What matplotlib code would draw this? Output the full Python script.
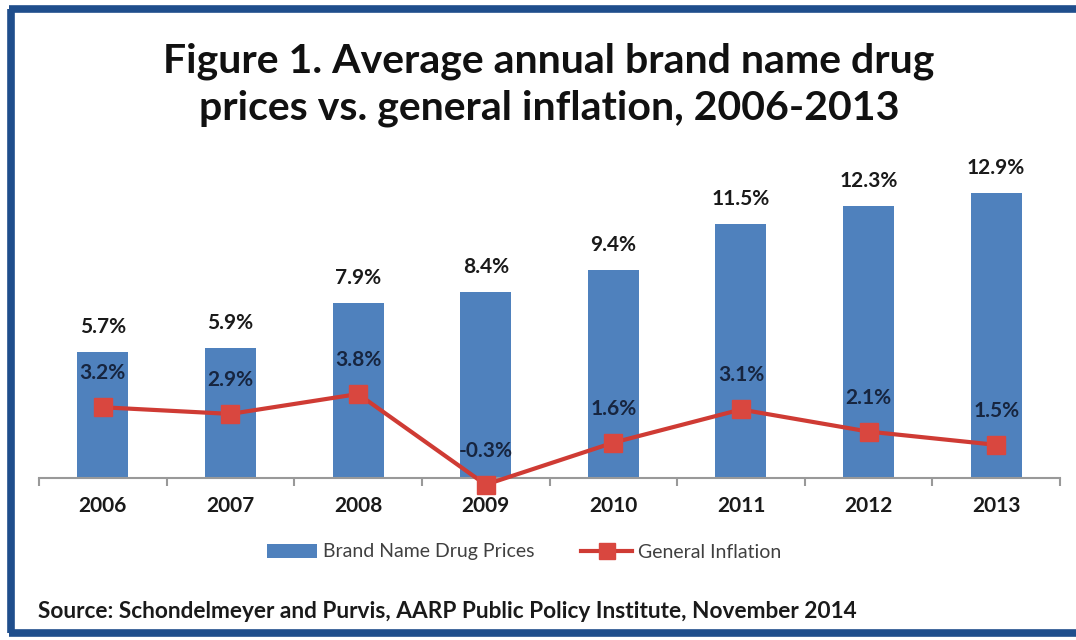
import matplotlib
matplotlib.use("Agg")
import matplotlib.pyplot as plt
from matplotlib.lines import Line2D
from matplotlib.patches import Patch
import numpy as np

years = ["2006", "2007", "2008", "2009", "2010", "2011", "2012", "2013"]
drug_prices = [5.7, 5.9, 7.9, 8.4, 9.4, 11.5, 12.3, 12.9]
inflation = [3.2, 2.9, 3.8, -0.3, 1.6, 3.1, 2.1, 1.5]

plt.rcParams['font.family'] = ['Lato', 'DejaVu Sans']

W, H = 1076, 640
fig = plt.figure(figsize=(W / 100, H / 100), dpi=100)
fig.patch.set_facecolor("white")

# frame
frame_col = "#1f4e8c"
fig.add_artist(Line2D([11 / W, 11 / W], [1 - 9 / H, 1 - 633 / H], color=frame_col, lw=5.5,
                      transform=fig.transFigure, solid_capstyle="butt"))
fig.add_artist(Line2D([9 / W, 1.0], [1 - 9 / H, 1 - 9 / H], color=frame_col, lw=5.5,
                      transform=fig.transFigure, solid_capstyle="butt"))
fig.add_artist(Line2D([9 / W, 1.0], [1 - 633 / H, 1 - 633 / H], color=frame_col, lw=5.5,
                      transform=fig.transFigure, solid_capstyle="butt"))

# axes: zero at y=478px, 22.1 px per unit
ymin, ymax = -1.0, 14.0
ppu = 22.1
bottom_px = 478 + (-ymin) * ppu
height_px = (ymax - ymin) * ppu
ax = fig.add_axes([39 / W, (H - bottom_px) / H, 1021 / W, height_px / H])
ax.set_ylim(ymin, ymax)
x = np.arange(len(years))
ax.set_xlim(-0.5, len(years) - 0.5)

ax.bar(x, drug_prices, width=0.4, color="#4f81bd", zorder=2)
ax.plot(x, inflation, color="#cf3b34", lw=3, marker="s", markersize=13,
        markerfacecolor="#d9473f", markeredgecolor="#d9473f", zorder=4)

for xi, v in zip(x, drug_prices):
    ax.text(xi, v + 25 / ppu, f"{v:.1f}%", ha="center", va="center", fontsize=15,
            fontweight="bold", color="#1a1a1a", zorder=5)
for xi, v in zip(x, inflation):
    ax.text(xi, v + 34 / ppu, f"{v:.1f}%", ha="center", va="center", fontsize=15,
            fontweight="bold", color="#17253f", zorder=5)

for s in ["top", "right", "left"]:
    ax.spines[s].set_visible(False)
ax.spines["bottom"].set_position(("data", 0))
ax.spines["bottom"].set_color("#999999")
ax.spines["bottom"].set_linewidth(1.5)
ax.set_yticks([])
ax.set_xticks(np.arange(-0.5, len(years), 1.0))
ax.set_xticklabels([])
ax.set_xticks(x, minor=True)
ax.set_xticklabels(years, minor=True)
ax.tick_params(axis="x", which="major", length=6, width=1.5, color="#999999", direction="out")
ax.tick_params(axis="x", which="minor", length=0, pad=13)
for lab in ax.get_xticklabels(minor=True):
    lab.set_fontsize(15)
    lab.set_fontweight("bold")
    lab.set_color("#1a1a1a")
ax.patch.set_alpha(0)

# title
fig.text(549 / W, 1 - 85 / H, "Figure 1. Average annual brand name drug\nprices vs. general inflation, 2006-2013",
         ha="center", va="center", fontsize=29.5, fontweight="bold", color="#111111",
         linespacing=1.3)

# legend
handles = [Patch(facecolor="#4f81bd", edgecolor="none"),
           Line2D([0], [0], color="#cf3b34", lw=3, marker="s", markersize=11,
                  markerfacecolor="#d9473f", markeredgecolor="#d9473f")]
fig.legend(handles, ["Brand Name Drug Prices", "General Inflation"], loc="center",
           bbox_to_anchor=(524 / W, 1 - 552 / H), ncol=2, frameon=False,
           fontsize=14, handlelength=2.6, handleheight=0.7, columnspacing=2.4,
           handletextpad=0.3, labelcolor="#404040")

fig.text(38 / W, 1 - 611 / H,
         "Source: Schondelmeyer and Purvis, AARP Public Policy Institute, November 2014",
         ha="left", va="center", fontsize=16.3, fontweight="bold", color="#1a1a1a")

fig.savefig("out.png", dpi=100)
